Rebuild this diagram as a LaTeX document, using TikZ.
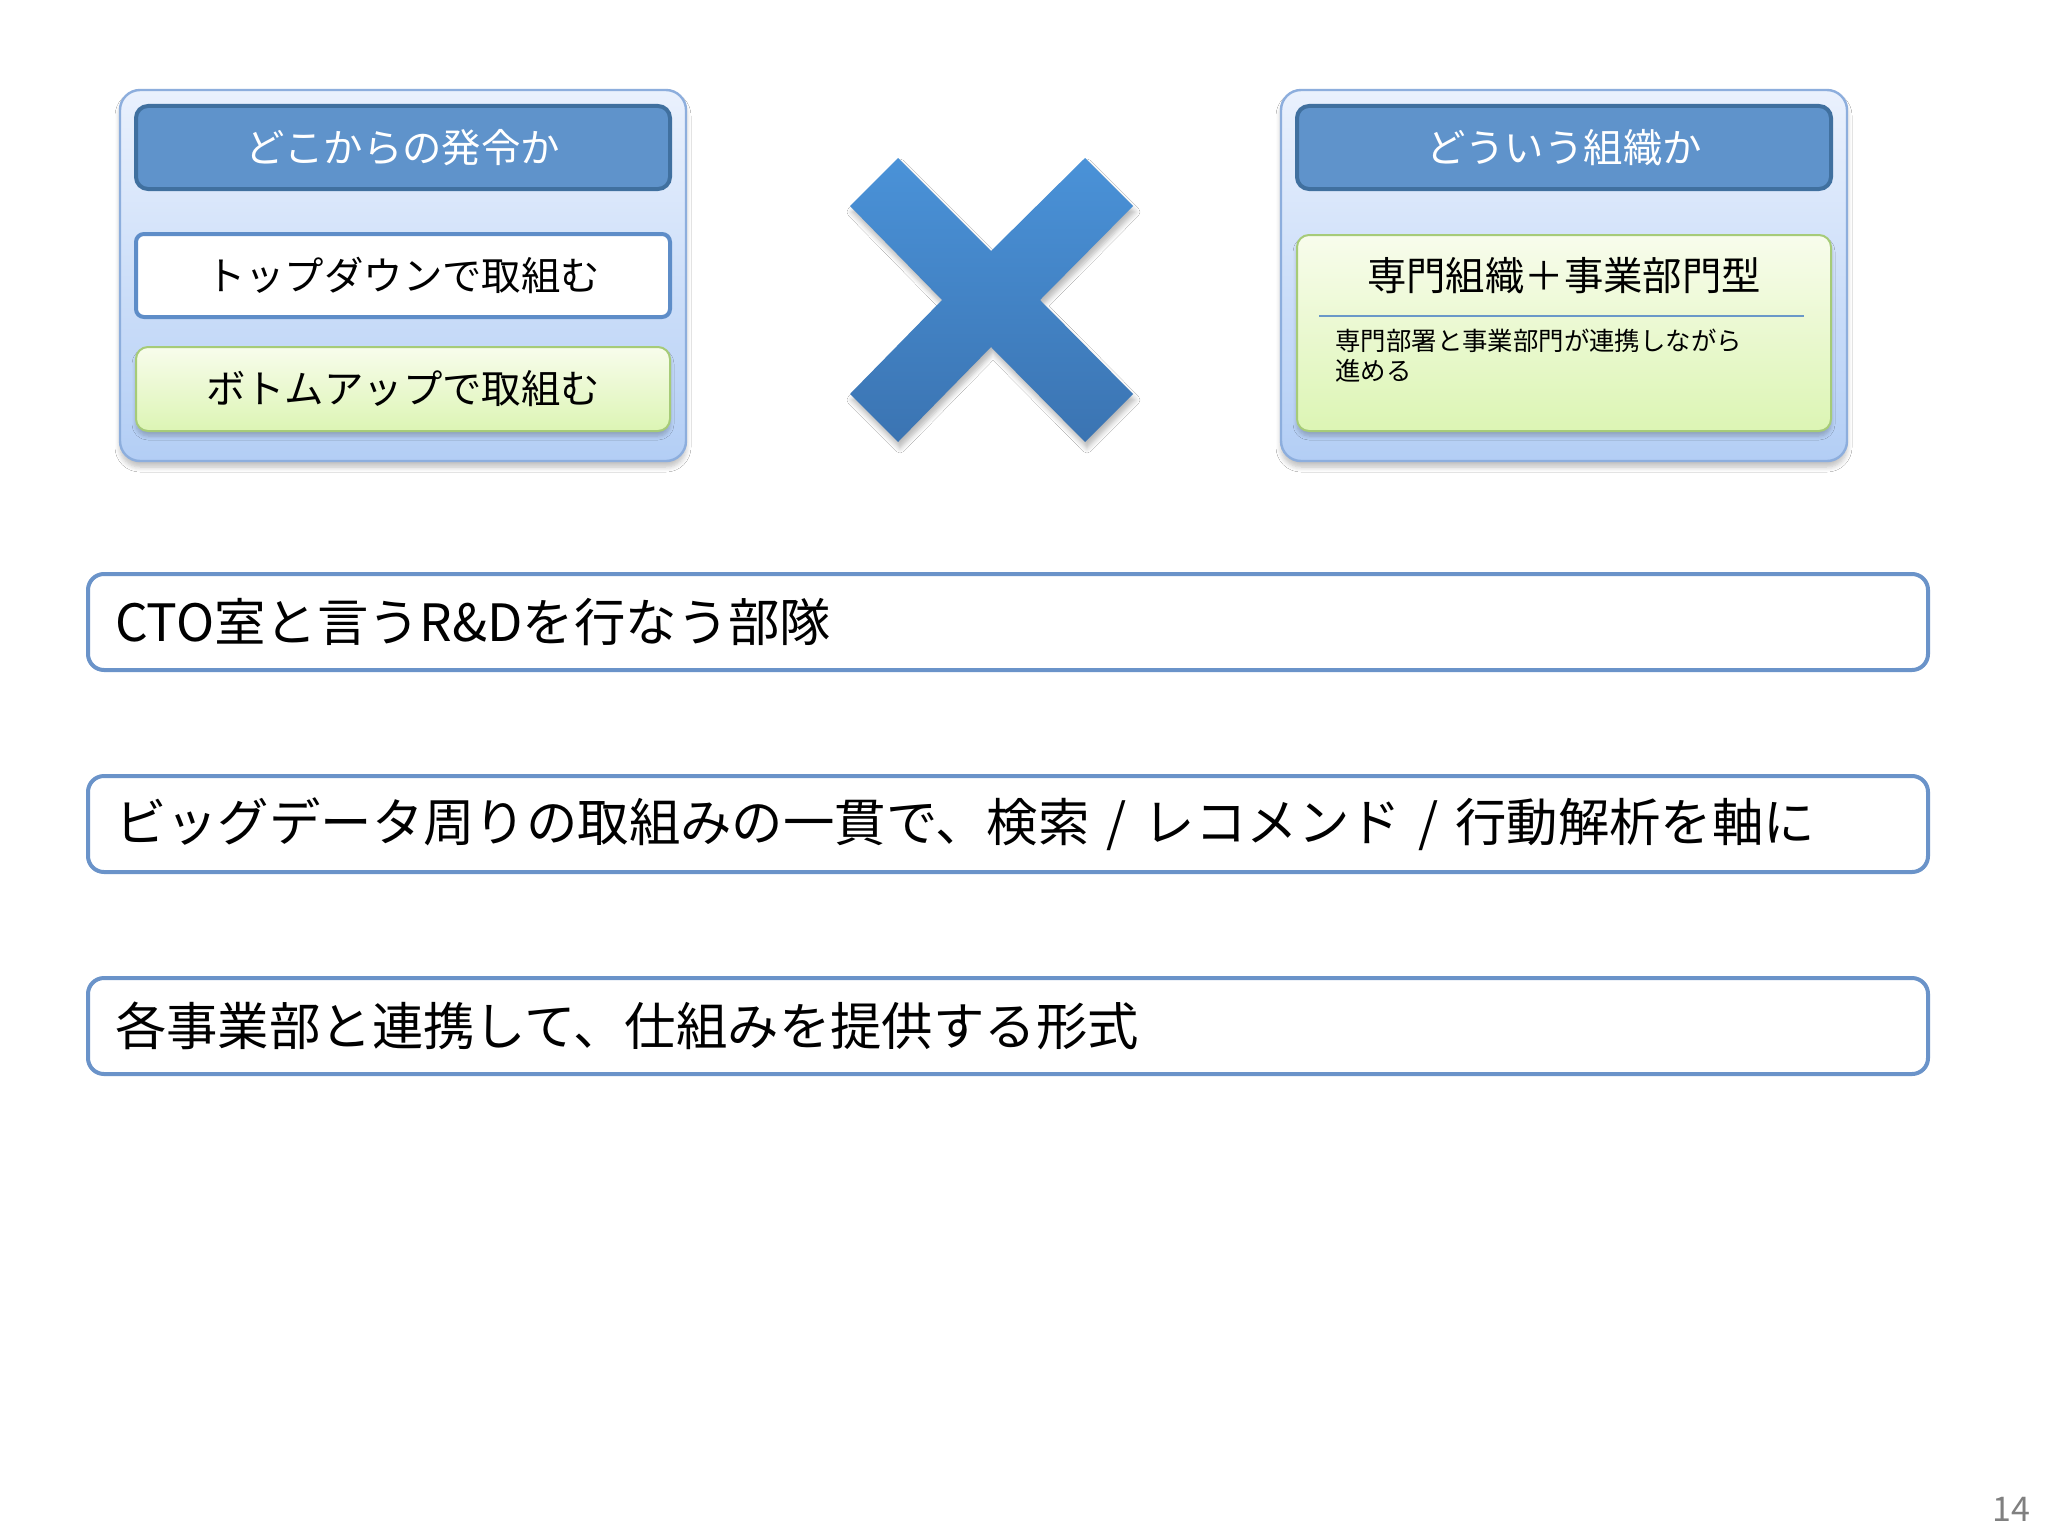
\documentclass[tikz,border=0pt]{standalone}
\usepackage{fontspec}
\setmainfont{Noto Sans CJK JP}
\usetikzlibrary{shadows.blur}
\definecolor{panelTop}{HTML}{EAF1FD}
\definecolor{panelBot}{HTML}{B3CEF5}
\definecolor{panelLine}{HTML}{8DAEDD}
\definecolor{hdrFill}{HTML}{5F93CB}
\definecolor{hdrLine}{HTML}{40709F}
\definecolor{boxLine}{HTML}{5E8DC8}
\definecolor{grnTop}{HTML}{F8FCEC}
\definecolor{grnBot}{HTML}{DCF5B4}
\definecolor{grnLine}{HTML}{A6CB78}
\definecolor{xTop}{HTML}{4A92D8}
\definecolor{xBot}{HTML}{3B74B2}
\definecolor{rowLine}{HTML}{6A93C9}
\definecolor{sepLine}{HTML}{6A98C8}
\tikzset{
  panel/.style={draw=panelLine, line width=1.2pt, rounded corners=10pt,
    top color=panelTop, bottom color=panelBot,
    minimum width=283pt, minimum height=185.5pt,
    blur shadow={shadow xshift=0pt, shadow yshift=-3pt, shadow blur steps=6, shadow blur radius=2.5pt, shadow opacity=25}},
  hdr/.style={draw=hdrLine, line width=2pt, rounded corners=6pt, fill=hdrFill,
    minimum width=267pt, minimum height=41.5pt, text=white, font=\fontsize{19.7}{22}\selectfont},
  whitebox/.style={draw=boxLine, line width=2pt, rounded corners=4pt, fill=white,
    minimum width=267pt, minimum height=41.5pt, font=\fontsize{19.7}{22}\selectfont},
  greenbox/.style={draw=grnLine, line width=1pt, rounded corners=6pt,
    top color=grnTop, bottom color=grnBot, minimum width=267pt,
    blur shadow={shadow xshift=0pt, shadow yshift=-2.5pt, shadow blur steps=5, shadow blur radius=2pt, shadow opacity=22}},
  rowbox/.style={draw=rowLine, line width=2pt, rounded corners=8pt, fill=white,
    minimum width=920pt, minimum height=48pt, text width=893pt, inner xsep=13.5pt,
    align=left, font=\fontsize{25.7}{30}\selectfont},
}
\begin{document}
\begin{tikzpicture}[x=0.5pt,y=-0.5pt]
\useasboundingbox[fill=white] (0,0) rectangle (2048,1536);
% left panel
\node[panel] (lp) at (403,275.5) {};
\node[hdr] (lh) at (403,147.5) {どこからの発令か};
\node[whitebox] (td) at (403,275.5) {トップダウンで取組む};
\node[greenbox, minimum height=42pt, font=\fontsize{19.7}{22}\selectfont] (bu) at (403,389) {ボトムアップで取組む};
% right panel
\node[panel] (rp) at (1564,275.5) {};
\node[hdr] (rh) at (1564,147.5) {どういう組織か};
\node[greenbox, minimum height=98pt] (gb) at (1564,333) {};
\node[font=\fontsize{19.7}{22}\selectfont] (gt) at (1564,276) {専門組織＋事業部門型};
\coordinate (sl) at (1319,316);
\coordinate (sr) at (1804,316);
\draw[sepLine, line width=0.9pt] (sl) -- (sr);
\node[anchor=north west, align=left, inner sep=0pt, font=\fontsize{12.7}{14.8}\selectfont] (gs) at (1335,329)
  {専門部署と事業部門が連携しながら\\進める};
% cross
\path[top color=xTop, bottom color=xBot,
  blur shadow={shadow xshift=1pt, shadow yshift=-3pt, shadow blur steps=6, shadow blur radius=2.5pt, shadow opacity=28}]
  (850,206) -- (898,158) -- (991,251) -- (1085,158) -- (1133,206) -- (1040,300)
  -- (1133,394) -- (1085,442) -- (991,347) -- (898,442) -- (850,394) -- (942,300) -- cycle;
% rows
\node[rowbox] (r1) at (1008,622) {CTO室と言うR\&Dを行なう部隊};
\node[rowbox] (r2) at (1008,824) {ビッグデータ周りの取組みの一貫で、検索 / レコメンド / 行動解析を軸に};
\node[rowbox] (r3) at (1008,1026) {各事業部と連携して、仕組みを提供する形式};
% page number
\node[text=black!50, font=\fontsize{17}{19}\selectfont] (pn) at (2011,1509) {14};
\end{tikzpicture}
\end{document}
